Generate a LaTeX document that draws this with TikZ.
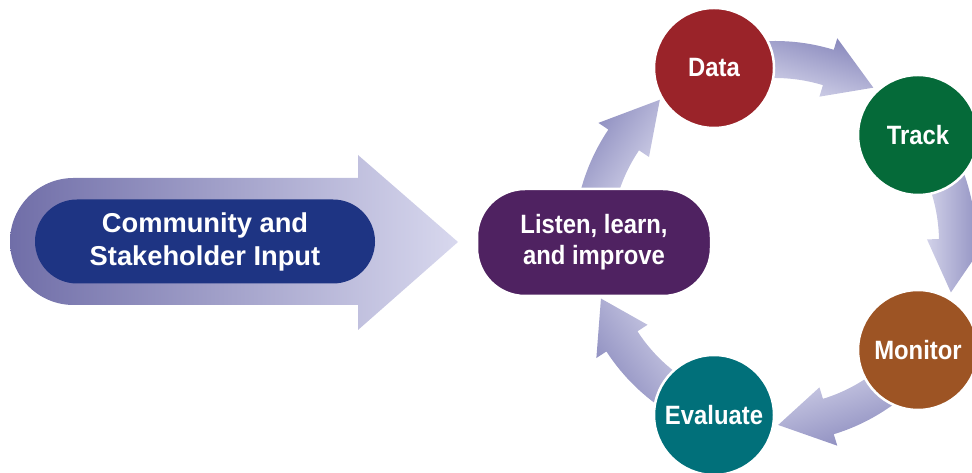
\documentclass[tikz,border=0pt]{standalone}
\usepackage{fontspec}
\setmainfont{Liberation Sans}
\newfontfamily\condfont{Liberation Sans}[FakeStretch=0.9]
\definecolor{bigdark}{RGB}{112,110,168}
\definecolor{biglight}{RGB}{216,216,238}
\definecolor{arrdark}{RGB}{136,136,188}
\definecolor{arrlight}{RGB}{218,218,238}
\definecolor{pillblue}{RGB}{30,52,131}
\definecolor{listenpurple}{RGB}{79,34,97}
\definecolor{datared}{RGB}{154,35,41}
\definecolor{trackgreen}{RGB}{5,106,57}
\definecolor{monitorbrown}{RGB}{157,84,36}
\definecolor{evalteal}{RGB}{1,112,122}
\tikzset{
  arrowshade/.style={left color=arrdark, right color=arrlight},
  stepcircle/.style={circle, minimum size=120pt, inner sep=0pt, draw=white, line width=2.5pt,
    text=white, font=\condfont\bfseries\fontsize{26.5}{31}\selectfont},
  pilltext/.style={text=white, align=center}
}
\newcommand{\cycarrow}[4]{%
  \shade[arrowshade, shading angle=#4, shift={(C)}]
    (#1:201) arc[start angle=#1, end angle=#2, radius=201]
    -- (#2:213) -- (#3:183) -- (#2:152) -- (#2:164)
    arc[start angle=#2, end angle=#1, radius=164] -- cycle;}
\begin{document}
\begin{tikzpicture}[x=1pt,y=1pt]
\useasboundingbox (0,0) rectangle (972,473);
\coordinate (C) at (775,231);
% big input arrow
\shade[left color=bigdark, right color=biglight]
  (73.5,295) -- (358,295) -- (358,318) -- (458,231) -- (358,143) -- (358,168)
  -- (73.5,168) arc[start angle=270, end angle=90, radius=63.5] -- cycle;
\node[pilltext, fill=pillblue, rectangle, rounded corners=42pt, minimum width=340pt,
  minimum height=84pt, font=\bfseries\fontsize{27.3}{33}\selectfont] (input) at (205,231.5)
  {Community and\\Stakeholder Input};
% cycle arrows
\cycarrow{170}{146}{129}{55}
\cycarrow{100}{73}{57.5}{-17}
\cycarrow{28}{1}{-16}{-90}
\cycarrow{-44}{-73}{-89}{-162}
\cycarrow{-116}{-147}{-162}{125}
% nodes
\node[pilltext, fill=listenpurple, draw=white, line width=2.5pt, rectangle, rounded corners=48pt,
  minimum width=234pt, minimum height=107pt,
  font=\condfont\bfseries\fontsize{26.5}{31}\selectfont] (listen) at (594,230.5)
  {Listen, learn,\\and improve};
\node[stepcircle, fill=datared] (data) at (714,405) {Data};
\node[stepcircle, fill=trackgreen] (track) at (918,338) {Track};
\node[stepcircle, fill=monitorbrown] (monitor) at (918,123) {Monitor};
\node[stepcircle, fill=evalteal] (evaluate) at (714,58) {Evaluate};
\end{tikzpicture}
\end{document}
